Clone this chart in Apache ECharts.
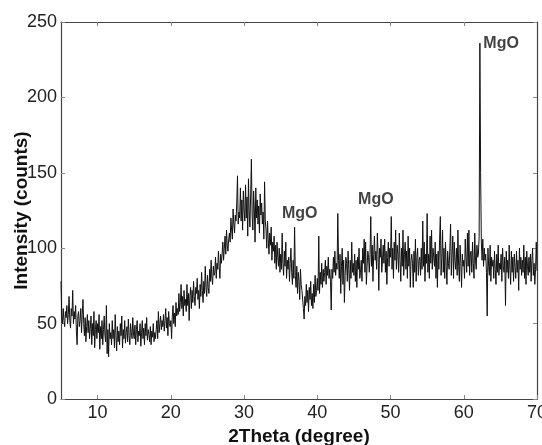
<!DOCTYPE html>
<html>
<head>
<meta charset="utf-8">
<script src="https://cdn.jsdelivr.net/npm/echarts@6/dist/echarts.min.js"></script>
<style>
html,body{margin:0;padding:0;background:#fff;}
#chart{width:542px;height:445px;}
</style>
</head>
<body>
<div id="chart"></div>
<script>
// 2Theta grid of the scan (degrees)
const thetaStart = 5;
const thetaStep = 0.1;
// Intensity (counts), 10 values per degree from 5.0 to 70.0
const intensity = [
  78, 55, 50, 60, 52, 48, 58, 54, 62, 50,
  56, 68, 52, 47, 60, 55, 72, 50, 58, 53,
  62, 45, 36, 55, 58, 48, 52, 60, 44, 56,
  66, 50, 42, 54, 38, 48, 56, 44, 52, 40,
  47, 55, 36, 50, 42, 58, 34, 46, 52, 40,
  50, 44, 56, 33, 48, 40, 52, 36, 46, 55,
  42, 38, 62, 30, 46, 28, 50, 40, 44, 36,
  52, 40, 46, 34, 56, 42, 32, 48, 38, 45,
  36, 50, 42, 55, 34, 46, 40, 52, 37, 44,
  48, 38, 53, 42, 36, 50, 44, 40, 54, 43,
  40, 49, 36, 46, 52, 38, 45, 42, 50, 35,
  44, 52, 40, 47, 36, 50, 42, 54, 39, 46,
  43, 38, 48, 36, 45, 41, 50, 38, 44, 40,
  46, 52, 40, 58, 44, 50, 55, 46, 52, 48,
  56, 45, 52, 60, 47, 54, 42, 58, 50, 48,
  52, 40, 55, 62, 50, 57, 48, 64, 55, 60,
  56, 70, 58, 64, 76, 60, 68, 55, 72, 62,
  66, 58, 76, 62, 70, 52, 68, 74, 60, 72,
  64, 78, 68, 62, 74, 70, 80, 66, 72, 60,
  76, 68, 84, 72, 64, 78, 70, 88, 74, 68,
  82, 74, 70, 86, 78, 92, 80, 76, 88, 82,
  84, 94, 80, 90, 86, 98, 88, 80, 96, 90,
  96, 104, 92, 100, 108, 96, 112, 102, 98, 106,
  110, 104, 120, 112, 106, 126, 116, 110, 122, 118,
  130, 148, 116, 124, 120, 140, 118, 132, 112, 138,
  126, 118, 142, 120, 134, 108, 146, 124, 114, 136,
  159, 122, 112, 138, 126, 104, 140, 120, 132, 116,
  128, 110, 136, 122, 130, 116, 124, 106, 144, 118,
  112, 100, 118, 106, 96, 110, 102, 114, 92, 104,
  98, 108, 90, 102, 86, 104, 94, 88, 100, 84,
  96, 86, 110, 90, 82, 98, 88, 104, 80, 92,
  86, 94, 78, 90, 100, 84, 76, 92, 80, 114,
  82, 74, 88, 70, 84, 78, 66, 86, 76, 72,
  72, 60, 53, 68, 62, 76, 64, 72, 58, 74,
  66, 78, 62, 70, 60, 76, 64, 82, 68, 72,
  80, 72, 108, 70, 84, 76, 90, 74, 86, 78,
  84, 92, 76, 88, 82, 94, 80, 86, 78, 59,
  86, 80, 94, 84, 98, 82, 90, 86, 123, 92,
  80, 96, 70, 88, 100, 76, 92, 64, 82, 94,
  90, 78, 98, 86, 72, 92, 80, 104, 84, 90,
  82, 96, 78, 92, 74, 94, 86, 100, 80, 84,
  92, 78, 100, 90, 106, 84, 104, 76, 88, 98,
  94, 84, 96, 121, 88, 102, 78, 96, 108, 92,
  98, 86, 110, 96, 72, 100, 94, 106, 84, 92,
  102, 90, 106, 84, 98, 76, 94, 104, 88, 100,
  94, 121, 86, 100, 80, 104, 92, 112, 86, 102,
  96, 84, 110, 92, 78, 100, 88, 112, 82, 96,
  104, 86, 98, 80, 108, 88, 100, 74, 92, 96,
  90, 74, 98, 84, 106, 78, 94, 100, 82, 92,
  94, 82, 100, 86, 118, 88, 104, 78, 96, 90,
  123, 84, 96, 80, 108, 90, 112, 86, 100, 94,
  88, 104, 80, 96, 74, 98, 86, 106, 121, 82,
  94, 112, 84, 100, 80, 104, 88, 76, 98, 90,
  86, 100, 116, 82, 96, 108, 80, 104, 92, 86,
  100, 82, 112, 88, 78, 102, 90, 74, 96, 88,
  92, 80, 106, 94, 84, 110, 88, 112, 82, 96,
  98, 84, 104, 90, 80, 110, 92, 86, 102, 94,
  96, 108, 236, 150, 104, 92, 106, 88, 100, 92,
  96, 84, 55, 100, 88, 82, 102, 78, 94, 88,
  92, 80, 98, 86, 76, 96, 84, 102, 82, 90,
  86, 96, 78, 100, 88, 84, 94, 62, 98, 84,
  92, 80, 102, 86, 76, 98, 84, 94, 78, 96,
  88, 80, 98, 84, 92, 72, 100, 86, 94, 82,
  92, 84, 102, 80, 94, 76, 98, 88, 82, 94,
  84, 96, 78, 92, 100, 82, 90, 76, 86, 104,
  85
];
// Peak annotations: [2Theta, intensity] where each label sits
const peakLabelX = [37.6, 48.0, 65.1];
const peakLabelY = [123, 132, 236];
const peakLabelText = ['MgO', 'MgO', 'MgO'];
// Axis ticks
const xTicks = [10, 20, 30, 40, 50, 60, 70];
const yTicks = [0, 50, 100, 150, 200, 250];

const lineData = intensity.map((v, i) => [+(thetaStart + i * thetaStep).toFixed(2), v]);
const labelData = peakLabelX.map((x, i) => ({ value: [x, peakLabelY[i]], name: peakLabelText[i] }));

const font = '"Liberation Sans", Arial, sans-serif';
const axisColor = '#444';

const chart = echarts.init(document.getElementById('chart'), null, { renderer: 'canvas' });
chart.setOption({
  animation: false,
  backgroundColor: '#fff',
  grid: { left: 61, right: 5, top: 22, bottom: 46, containLabel: false, outerBoundsMode: 'none' },
  xAxis: [
    {
      type: 'value', min: 5, max: 70, position: 'bottom',
      name: '2Theta (degree)', nameLocation: 'middle', nameGap: 28, nameMoveOverlap: false,
      nameTextStyle: { fontFamily: font, fontSize: 19, fontWeight: 'bold', color: '#111' },
      axisLine: { show: true, lineStyle: { color: axisColor, width: 1.2 } },
      axisTick: { show: true, inside: true, length: 4, customValues: xTicks, lineStyle: { color: '#888' } },
      axisLabel: { show: true, customValues: xTicks, fontFamily: font, fontSize: 18, color: '#222', margin: 5 },
      splitLine: { show: false }
    },
    {
      type: 'value', min: 5, max: 70, position: 'top',
      axisLine: { show: true, onZero: false, lineStyle: { color: axisColor, width: 1.2 } },
      axisTick: { show: true, inside: true, length: 4, customValues: xTicks.slice(0, 6), lineStyle: { color: '#888' } },
      axisLabel: { show: false },
      splitLine: { show: false }
    }
  ],
  yAxis: [
    {
      type: 'value', min: 0, max: 250, interval: 50, position: 'left',
      name: 'Intensity (counts)', nameLocation: 'middle', nameGap: 30, nameMoveOverlap: false,
      nameTextStyle: { fontFamily: font, fontSize: 19, fontWeight: 'bold', color: '#111' },
      axisLine: { show: true, onZero: false, lineStyle: { color: axisColor, width: 1.2 } },
      axisTick: { show: true, inside: true, length: 4, lineStyle: { color: '#888' } },
      axisLabel: { show: true, fontFamily: font, fontSize: 18, color: '#222', margin: 4 },
      splitLine: { show: false }
    },
    {
      type: 'value', min: 0, max: 250, interval: 50, position: 'right',
      axisLine: { show: true, onZero: false, lineStyle: { color: axisColor, width: 1.2 } },
      axisTick: { show: true, inside: true, length: 4, lineStyle: { color: '#888' } },
      axisLabel: { show: false },
      splitLine: { show: false }
    }
  ],
  series: [
    {
      type: 'line', xAxisIndex: 0, yAxisIndex: 0,
      data: lineData, showSymbol: false, symbol: 'none',
      lineStyle: { color: '#111', width: 1 },
      silent: true
    },
    {
      type: 'scatter', xAxisIndex: 0, yAxisIndex: 0,
      data: labelData, symbolSize: 0,
      label: {
        show: true, position: 'inside', formatter: p => p.name,
        fontFamily: font, fontSize: 16, fontWeight: 'bold', color: '#111'
      },
      silent: true
    }
  ]
});
</script>
</body>
</html>
